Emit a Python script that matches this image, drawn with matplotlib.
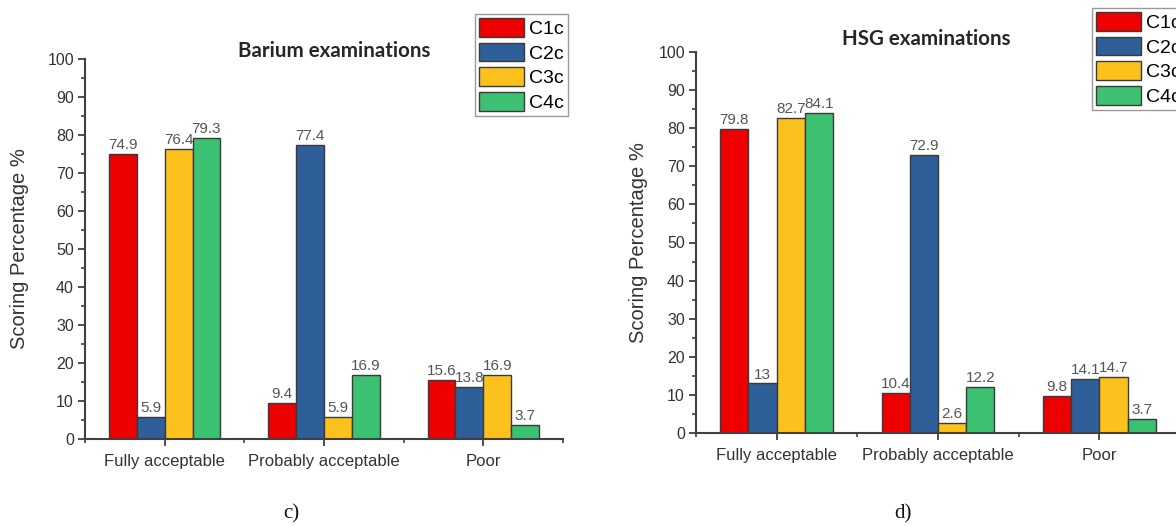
import matplotlib.pyplot as plt
import numpy as np
from matplotlib.ticker import MultipleLocator, FixedLocator

categories = ['Fully acceptable', 'Probably acceptable', 'Poor']
series = ['C1c', 'C2c', 'C3c', 'C4c']

# Barium examinations (panel c)
barium_c1 = [74.9, 9.4, 15.6]
barium_c2 = [5.9, 77.4, 13.8]
barium_c3 = [76.4, 5.9, 16.9]
barium_c4 = [79.3, 16.9, 3.7]

# HSG examinations (panel d)
hsg_c1 = [79.8, 10.4, 9.8]
hsg_c2 = [13, 72.9, 14.1]
hsg_c3 = [82.7, 2.6, 14.7]
hsg_c4 = [84.1, 12.2, 3.7]

colors = ['#EE0000', '#2F5F98', '#FBC21E', '#3CC071']
edge = '#3a3a3a'
axcol = '#404040'

plt.rcParams['font.family'] = ['Liberation Sans', 'DejaVu Sans']

W, H = 1176, 526
fig = plt.figure(figsize=(W / 100, H / 100), dpi=100)


def px_axes(x0, y0, x1, y1):
    # axes rectangle in pixels, measured from the top-left corner
    return fig.add_axes([x0 / W, 1 - y1 / H, (x1 - x0) / W, (y1 - y0) / H])


ax1 = px_axes(85, 59, 563, 439)
ax2 = px_axes(696, 52, 1180, 433)

panels = [
    (ax1, [barium_c1, barium_c2, barium_c3, barium_c4], 'Barium examinations',
     (334, 51), (475, 14), 'c)', (291, 514), -0.117),
    (ax2, [hsg_c1, hsg_c2, hsg_c3, hsg_c4], 'HSG examinations',
     (926, 39), (1092, 8), 'd)', (903, 514), -0.099),
]

for ax, data, title, txy, lxy, cap, cxy, ylx in panels:
    x = np.arange(len(categories))
    bw = 0.175
    handles = []
    for i, vals in enumerate(data):
        bars = ax.bar(x + (i - 1.5) * bw, vals, bw, color=colors[i], edgecolor=edge,
                      linewidth=1.0, label=series[i], zorder=2)
        handles.append(bars)
        for b, v in zip(bars, vals):
            ax.text(b.get_x() + b.get_width() / 2, v + 0.5, f'{v:g}',
                    ha='center', va='bottom', fontsize=11, color='#555555')

    ax.set_xlim(-0.5, 2.5)
    ax.set_ylim(0, 100)
    for s in ['top', 'right']:
        ax.spines[s].set_visible(False)
    for s in ['left', 'bottom']:
        ax.spines[s].set_color(axcol)
        ax.spines[s].set_linewidth(1.5)

    ax.set_xticks(x)
    ax.set_xticklabels(categories, fontsize=12, color='#333333')
    ax.xaxis.set_minor_locator(FixedLocator([-0.5, 0.5, 1.5, 2.5]))
    ax.yaxis.set_major_locator(MultipleLocator(10))
    ax.yaxis.set_minor_locator(MultipleLocator(5))
    ax.tick_params(axis='both', which='major', direction='out', length=5,
                   width=1.3, color=axcol)
    ax.tick_params(axis='both', which='minor', direction='out', length=3,
                   width=1.2, color=axcol)
    ax.tick_params(axis='x', which='major', pad=6)
    ax.tick_params(axis='y', which='major', labelsize=11.5, labelcolor='#333333', pad=3)

    ax.set_ylabel('Scoring Percentage %', fontsize=14.5, color='#333333')
    ax.yaxis.set_label_coords(ylx, 0.5)

    fig.text(txy[0] / W, 1 - txy[1] / H, title, family=['Lato', 'DejaVu Sans'],
             fontweight='bold', fontsize=14.8, color='#262626', ha='center', va='center')

    fig.legend(handles, series, loc='upper left',
               bbox_to_anchor=(lxy[0] / W, 1 - lxy[1] / H),
               bbox_transform=fig.transFigure, fontsize=14, frameon=True,
               fancybox=False, edgecolor='#9a9a9a', framealpha=1,
               handlelength=2.3, handleheight=1.1, handletextpad=0.3,
               labelspacing=0.25, borderpad=0.2, borderaxespad=0)

    fig.text(cxy[0] / W, 1 - cxy[1] / H, cap,
             family=['Liberation Serif', 'DejaVu Serif'], fontsize=15,
             color='#111111', ha='center', va='center')

fig.savefig('out.png', dpi=100)
